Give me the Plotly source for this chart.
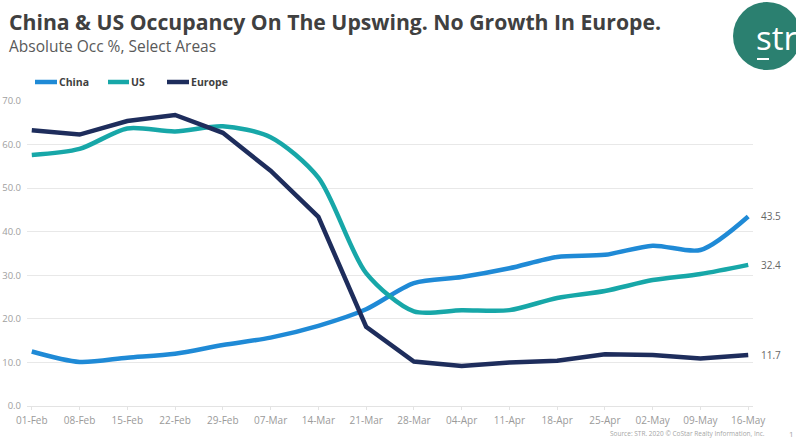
import plotly.graph_objects as go

# Weekly occupancy (%) by region
weeks = ["01-Feb", "08-Feb", "15-Feb", "22-Feb", "29-Feb", "07-Mar", "14-Mar", "21-Mar",
         "28-Mar", "04-Apr", "11-Apr", "18-Apr", "25-Apr", "02-May", "09-May", "16-May"]
china = [12.5, 10.1, 11.1, 12.0, 14.0, 15.7, 18.4, 22.2, 28.2, 29.6, 31.6, 34.2, 34.7, 36.8, 35.8, 43.5]
us = [57.6, 59.0, 63.7, 63.0, 64.2, 61.7, 52.4, 30.5, 21.7, 22.0, 22.0, 24.8, 26.4, 28.9, 30.3, 32.4]
europe = [63.3, 62.3, 65.4, 66.8, 62.7, 54.0, 43.4, 18.2, 10.2, 9.2, 10.0, 10.4, 11.9, 11.7, 10.9, 11.7]

series_names = ["China", "US", "Europe"]
series_values = [china, us, europe]
series_colors = ["#1f8ad6", "#17a7a8", "#1e2d5c"]
series_shapes = ["spline", "spline", "linear"]

y_ticks = [0, 10, 20, 30, 40, 50, 60, 70]

# plot-area geometry in pixels (figure is 796 x 441)
FIG_W, FIG_H = 796, 441
L, R, T, B = 27, 753, 101, 406


def px(xp):
    return (xp - L) / (R - L)


def py(yp):
    return (B - yp) / (B - T)


fig = go.Figure()
for name, vals, color, shape in zip(series_names, series_values, series_colors, series_shapes):
    fig.add_trace(go.Scatter(
        x=weeks, y=vals, name=name, mode="lines",
        line=dict(color=color, width=4.5, shape=shape, smoothing=0.8),
        showlegend=False, cliponaxis=False,
    ))
    # end-of-series value label
    fig.add_annotation(
        x=weeks[-1], y=vals[-1], xref="x", yref="y",
        text=f"{vals[-1]:.1f}", showarrow=False, xanchor="left", xshift=11,
        font=dict(family="Open Sans", size=10, color="#666666"),
    )

# hand-drawn legend row above the plot
legend_items = [(35, 57), (108, 129), (167, 189)]
for (x0, x1), name, color in zip(legend_items, series_names, series_colors):
    fig.add_shape(type="line", xref="paper", yref="paper",
                  x0=px(x0), x1=px(x1), y0=py(82), y1=py(82),
                  line=dict(color=color, width=4.5))
    fig.add_annotation(xref="paper", yref="paper", x=px(x1), y=py(82),
                       text=name, showarrow=False, xanchor="left", yanchor="middle",
                       font=dict(family="Open Sans", size=10.5, color="#404040", weight="bold"))

# title and subtitle
fig.add_annotation(xref="paper", yref="paper", x=px(7), y=py(22),
                   text="<b>China &amp; US Occupancy On The Upswing. No Growth In Europe.</b>",
                   showarrow=False, xanchor="left", yanchor="middle",
                   font=dict(family="Open Sans", size=21.2, color="#404040"))
fig.add_annotation(xref="paper", yref="paper", x=px(7), y=py(46),
                   text="Absolute Occ %, Select Areas",
                   showarrow=False, xanchor="left", yanchor="middle",
                   font=dict(family="Open Sans", size=15.5, color="#595959"))

# source note and page number
fig.add_annotation(xref="paper", yref="paper", x=px(767), y=py(433),
                   text="Source: STR. 2020 © CoStar Realty Information, Inc.",
                   showarrow=False, xanchor="right", yanchor="middle",
                   font=dict(family="Open Sans", size=6.5, color="#a6a6a6"))
fig.add_annotation(xref="paper", yref="paper", x=px(787), y=py(433),
                   text="1", showarrow=False, xanchor="left", yanchor="middle",
                   font=dict(family="Open Sans", size=8, color="#a6a6a6"))

# str logo badge
fig.add_shape(type="circle", xref="paper", yref="paper",
              x0=px(733), x1=px(801), y0=py(2), y1=py(70),
              fillcolor="#2b8070", line=dict(width=0), layer="above")
fig.add_annotation(xref="paper", yref="paper", x=px(754), y=py(38),
                   text="str", showarrow=False, xanchor="left", yanchor="middle",
                   font=dict(family="Open Sans", size=33, color="white"))
fig.add_shape(type="line", xref="paper", yref="paper",
              x0=px(757), x1=px(769), y0=py(59), y1=py(59),
              line=dict(color="white", width=2))

fig.update_xaxes(
    type="category", range=[-0.1, 15.1], automargin=False,
    showgrid=False, showline=True, linecolor="#e3e3e3", linewidth=1,
    ticks="outside", ticklen=3, tickcolor="#e3e3e3",
    tickfont=dict(family="Open Sans", size=10, color="#9a9a9a"),
    ticklabelstandoff=2,
)
fig.update_yaxes(
    range=[0, 70], tickvals=y_ticks, ticktext=[f"{v:.1f}" for v in y_ticks],
    automargin=False,
    showgrid=True, gridcolor="#e8e8e8", gridwidth=1, zeroline=False, showline=False,
    tickfont=dict(family="Open Sans", size=9.5, color="#a0a0a0"),
    ticklabelstandoff=5,
)
fig.update_layout(
    width=FIG_W, height=FIG_H,
    margin=dict(l=L, r=FIG_W - R, t=T, b=FIG_H - B),
    paper_bgcolor="white", plot_bgcolor="white",
    showlegend=False,
)

fig.write_html("out.html")
